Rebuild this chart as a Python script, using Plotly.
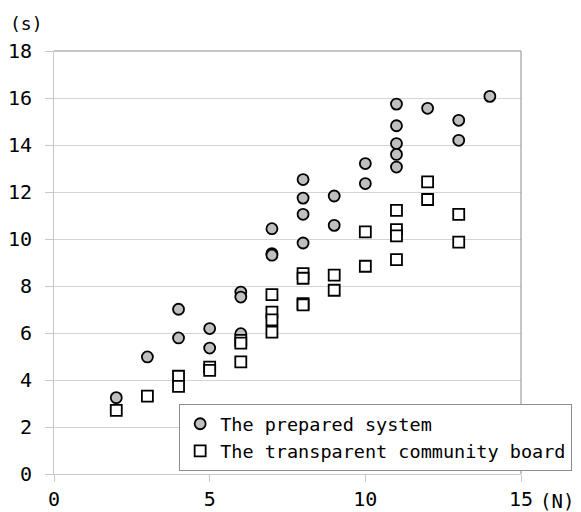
import plotly.graph_objects as go

# Number of items (N) vs. time taken (s)
prepared_n = [2, 3, 4, 4, 5, 5, 6, 6, 6, 7, 7, 7, 8, 8, 8, 8, 9, 9, 10, 10,
              11, 11, 11, 11, 11, 12, 13, 13, 14]
prepared_s = [3.25, 4.98, 7.01, 5.79, 6.19, 5.36, 7.74, 7.53, 5.97, 10.44, 9.38, 9.31,
              12.53, 11.74, 11.05, 9.83, 11.83, 10.58, 13.21, 12.36,
              15.74, 14.82, 14.06, 13.60, 13.06, 15.56, 15.05, 14.20, 16.07]

board_n = [2, 3, 4, 4, 5, 5, 6, 6, 6, 7, 7, 7, 7, 8, 8, 8, 8, 9, 9, 10, 10,
           11, 11, 11, 11, 12, 12, 13, 13]
board_s = [2.71, 3.31, 4.16, 3.73, 4.55, 4.41, 5.69, 5.57, 4.77, 7.63, 6.89, 6.56, 6.04,
           8.53, 8.33, 7.25, 7.20, 8.46, 7.82, 10.30, 8.84,
           11.22, 10.40, 10.13, 9.12, 12.43, 11.68, 11.05, 9.87]

x_ticks = [0, 5, 10, 15]
y_ticks = [0, 2, 4, 6, 8, 10, 12, 14, 16, 18]

MONO = "DejaVu Sans Mono"
AXIS_GREY = "#c8c8c8"
FRAME_GREY = "#8c8c8c"

fig = go.Figure()
fig.add_trace(go.Scatter(
    x=prepared_n, y=prepared_s, mode="markers", name="The prepared system",
    marker=dict(symbol="circle", size=11, color="#bfbfbf",
                line=dict(color="black", width=1.8)),
))
fig.add_trace(go.Scatter(
    x=board_n, y=board_s, mode="markers", name="The transparent community board",
    marker=dict(symbol="square", size=11, color="white",
                line=dict(color="black", width=1.8)),
))

# plot-area frame on top and right
fig.add_shape(type="line", xref="paper", yref="paper", x0=0, x1=1, y0=1, y1=1,
              line=dict(color=FRAME_GREY, width=1))
fig.add_shape(type="line", xref="paper", yref="paper", x0=1, x1=1, y0=0, y1=1,
              line=dict(color=FRAME_GREY, width=1))

fig.add_annotation(text="(s)", xref="paper", yref="paper", x=-0.059, y=1.065,
                   xanchor="center", yanchor="middle", showarrow=False,
                   font=dict(family=MONO, size=18, color="black"))
fig.add_annotation(text="(N)", xref="paper", yref="paper", x=1.077, y=-0.065,
                   xanchor="center", yanchor="middle", showarrow=False,
                   font=dict(family=MONO, size=19, color="black"))

fig.update_layout(
    width=581, height=512,
    margin=dict(l=54, r=60, t=51, b=38, autoexpand=False),
    paper_bgcolor="white", plot_bgcolor="white",
    font=dict(family=MONO, size=20, color="black"),
    showlegend=True,
    legend=dict(
        x=0.268, y=0.165, xanchor="left", yanchor="top",
        bgcolor="white", bordercolor=FRAME_GREY, borderwidth=1,
        font=dict(family=MONO, size=18.5, color="black"),
        tracegroupgap=4,
    ),
)
fig.update_xaxes(
    range=[0, 15], tickvals=x_ticks, ticktext=[str(v) for v in x_ticks],
    showgrid=False, zeroline=False,
    showline=True, linecolor=AXIS_GREY, linewidth=1,
    ticks="outside", ticklen=7, tickcolor=AXIS_GREY,
    tickfont=dict(family=MONO, size=20, color="black"),
)
fig.update_yaxes(
    range=[0, 18], tickvals=y_ticks, ticktext=[str(v) for v in y_ticks],
    showgrid=True, gridcolor="#d4d4d4", gridwidth=1, zeroline=False,
    showline=True, linecolor=AXIS_GREY, linewidth=1,
    ticks="outside", ticklen=8, tickcolor=AXIS_GREY,
    ticklabelstandoff=9,
    tickfont=dict(family=MONO, size=20, color="black"),
)

fig.write_html("out.html")
